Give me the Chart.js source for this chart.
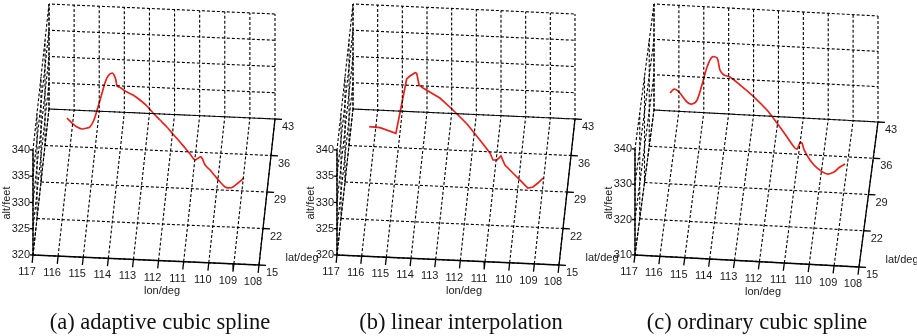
<!DOCTYPE html>
<html>
<head>
<meta charset="utf-8">
<script src="https://cdn.jsdelivr.net/npm/chart.js@4"></script>
<style>
  html, body { margin: 0; padding: 0; background: #fff; }
  #wrap { position: relative; width: 917px; height: 336px; overflow: hidden; }
  #wrap canvas { position: absolute; left: 0; top: 0; }
  .cap { position: absolute; top: 311px; line-height: 22.5px; font-family: 'Liberation Serif', 'Times New Roman', serif;
         font-size: 22.5px; color: #111; white-space: nowrap; transform: translateX(-50%); }
</style>
</head>
<body>
<div id="wrap">
  <canvas id="pa" width="917" height="336"></canvas>
  <canvas id="pb" width="917" height="336"></canvas>
  <canvas id="pc" width="917" height="336"></canvas>
</div>
<script>
// axis ticks
const lonTicks = [117, 116, 115, 114, 113, 112, 111, 110, 109, 108];
const latTicks = [15, 22, 29, 36, 43];
const altTicksAB = [320, 325, 330, 335, 340];
const altTicksC = [310, 320, 330, 340];
const captions = ['(a) adaptive cubic spline', '(b) linear interpolation', '(c) ordinary cubic spline'];

// (a) adaptive cubic spline track
const adaptiveLon = [116.12, 115.91, 115.70, 115.49, 115.28, 115.16, 114.99, 114.82, 114.65, 114.53, 114.40, 114.23, 114.15,
  114.07, 114.02, 113.86, 113.69, 113.35, 113.06, 112.77, 112.51, 112.22, 111.93, 111.68, 111.38, 111.17, 110.96, 110.75,
  110.54, 110.46, 110.33, 110.12, 109.91, 109.70, 109.49, 109.33, 109.16, 108.95, 108.70];
const adaptiveLat = [35.84, 35.38, 34.92, 34.45, 33.99, 33.71, 33.34, 32.96, 32.59, 32.31, 32.03, 31.66, 31.48,
  31.29, 31.20, 30.83, 30.45, 29.71, 29.06, 28.41, 27.85, 27.20, 26.55, 25.99, 25.34, 24.88, 24.41, 23.95,
  23.49, 23.30, 23.02, 22.56, 22.09, 21.63, 21.16, 20.79, 20.42, 19.95, 19.40];
const adaptiveAlt = [325.58, 325.13, 324.88, 325.00, 325.70, 326.19, 327.93, 330.81, 333.88, 336.09, 337.73, 338.70, 338.53,
  337.78, 336.73, 336.76, 336.59, 336.64, 336.39, 335.96, 335.23, 334.61, 333.98, 333.26, 332.44, 331.80, 331.17, 330.53,
  331.61, 331.62, 330.59, 330.14, 329.50, 328.87, 328.42, 328.64, 329.23, 330.50, 332.06];

// (b) linear interpolation track
const linearLon = [116.18, 115.72, 115.04, 114.58, 114.44, 114.22, 114.15, 114.05, 113.88, 113.16, 112.60, 112.00,
  111.45, 111.02, 110.89, 110.72, 110.55, 110.38, 110.04, 109.65, 109.40, 109.18, 108.97, 108.75];
const linearLat = [35.97, 34.96, 33.44, 32.43, 32.11, 31.64, 31.48, 31.26, 30.88, 29.27, 28.04, 26.72,
  25.49, 24.54, 24.25, 23.88, 23.50, 23.12, 22.36, 21.51, 20.94, 20.47, 19.99, 19.52];
const linearAlt = [323.79, 324.70, 325.28, 336.73, 337.64, 338.78, 338.84, 336.86, 336.69, 336.54, 335.60, 334.37,
  332.66, 331.22, 330.20, 330.61, 331.78, 330.48, 329.78, 328.99, 328.47, 329.18, 330.46, 331.92];

// (c) ordinary cubic spline track
const ordinaryLon = [116.16, 115.99, 115.78, 115.44, 115.22, 115.01, 114.80, 114.58, 114.37, 114.15, 114.03, 113.86,
  113.60, 113.17, 112.57, 112.02, 111.59, 111.16, 110.86, 110.73, 110.61, 110.52, 110.43, 110.18, 109.88, 109.45,
  109.15, 108.90, 108.68];
const ordinaryLat = [35.94, 35.56, 35.09, 34.33, 33.86, 33.38, 32.91, 32.44, 31.96, 31.49, 31.21, 30.83,
  30.26, 29.31, 27.98, 26.75, 25.80, 24.86, 24.19, 23.91, 23.63, 23.43, 23.25, 22.68, 22.02, 21.07,
  20.40, 19.83, 19.36];
const ordinaryAlt = [325.47, 327.22, 327.15, 325.56, 325.77, 327.67, 332.69, 338.56, 342.17, 342.66, 339.73, 338.93,
  339.30, 338.59, 337.36, 335.69, 333.57, 331.15, 329.41, 329.31, 331.47, 331.78, 330.11, 328.21, 327.03, 326.88,
  328.53, 330.88, 332.51];

// view of each panel: where the box corner sits and how the three axes project on screen
const panels = [
  { id: 'pa', origin: [33, 255], lonVec: [226, 10], latVec: [16, -146], altVec: [0, -105], altTicks: altTicksAB,
    lon: adaptiveLon, lat: adaptiveLat, alt: adaptiveAlt, tension: 0.3, capX: 160 },
  { id: 'pb', origin: [337, 255], lonVec: [222, 10], latVec: [16, -146], altVec: [0, -105], altTicks: altTicksAB,
    lon: linearLon, lat: linearLat, alt: linearAlt, tension: 0, capX: 461 },
  { id: 'pc', origin: [635, 255], lonVec: [224, 12], latVec: [19, -145], altVec: [0, -106], altTicks: altTicksC,
    lon: ordinaryLon, lat: ordinaryLat, alt: ordinaryAlt, tension: 0.3, capX: 757 }
];

const tickFont = "11px 'Liberation Sans Narrow', 'Liberation Sans', Arial, sans-serif";

function makePanel(v, idx) {
  const lonA = lonTicks[0], lonB = lonTicks[lonTicks.length - 1];
  const latLo = latTicks[0], latHi = latTicks[latTicks.length - 1];
  const altLo = v.altTicks[0], altHi = v.altTicks[v.altTicks.length - 1];

  function P(lon, lat, alt) {
    const a = (lonA - lon) / (lonA - lonB);
    const b = (lat - latLo) / (latHi - latLo);
    const c = (alt - altLo) / (altHi - altLo);
    return {
      x: v.origin[0] + a * v.lonVec[0] + b * v.latVec[0] + c * v.altVec[0],
      y: v.origin[1] + a * v.lonVec[1] + b * v.latVec[1] + c * v.altVec[1]
    };
  }

  const ds = [];
  const line = (p, q, style) => ds.push(Object.assign({
    data: [P(...p), P(...q)], showLine: true, pointRadius: 0, borderWidth: 1.1,
    borderColor: '#000', tension: 0, fill: false
  }, style));
  const dash = off => ({ borderDash: [3, 2], borderDashOffset: off });

  // floor grid
  lonTicks.forEach(lon => line([lon, latLo, altLo], [lon, latHi, altLo], dash(0)));
  latTicks.forEach(lat => line([lonA, lat, altLo], [lonB, lat, altLo], dash(0)));
  // back wall grid
  lonTicks.forEach(lon => line([lon, latHi, altLo], [lon, latHi, altHi], dash(2)));
  v.altTicks.forEach(alt => line([lonA, latHi, alt], [lonB, latHi, alt], dash(2)));
  // side wall grid
  latTicks.forEach(lat => line([lonA, lat, altLo], [lonA, lat, altHi], dash(1)));
  v.altTicks.forEach(alt => line([lonA, latLo, alt], [lonA, latHi, alt], dash(1)));

  // axes and ticks
  const solid = { borderWidth: 1.3 };
  line([lonA, latLo, altLo], [lonB, latLo, altLo], solid);
  line([lonB, latLo, altLo], [lonB, latHi, altLo], solid);
  line([lonA, latLo, altLo], [lonA, latLo, altHi], solid);
  lonTicks.forEach(lon => line([lon, latLo, altLo], [lon, latLo - 1.5, altLo], solid));
  latTicks.forEach(lat => line([lonB, lat, altLo], [lonB - 0.28, lat, altLo], solid));
  v.altTicks.forEach(alt => line([lonA, latLo, alt], [lonA + 0.12, latLo, alt], solid));

  // flight track
  ds.push({
    data: v.lon.map((lon, i) => P(lon, v.lat[i], v.alt[i])),
    showLine: true, pointRadius: 0, borderColor: '#e6221c', borderWidth: 1.7,
    tension: v.tension, fill: false
  });

  const axisText = {
    id: 'axisText',
    afterDatasetsDraw(chart) {
      const ctx = chart.ctx, sx = chart.scales.x, sy = chart.scales.y;
      const px = p => [sx.getPixelForValue(p.x), sy.getPixelForValue(p.y)];
      ctx.save();
      ctx.fillStyle = '#1a1a1a';
      ctx.font = tickFont;
      ctx.textBaseline = 'middle';
      ctx.textAlign = 'center';
      lonTicks.forEach(lon => {
        const [x, y] = px(P(lon, latLo, altLo));
        ctx.fillText(String(lon), x - 6, y + 17);
      });
      ctx.textAlign = 'left';
      latTicks.forEach(lat => {
        const [x, y] = px(P(lonB, lat, altLo));
        ctx.fillText(String(lat), x + 7, y + 8);
      });
      ctx.textAlign = 'right';
      v.altTicks.forEach(alt => {
        const [x, y] = px(P(lonA, latLo, alt));
        ctx.fillText(String(alt), x - 3, y);
      });
      ctx.textAlign = 'center';
      const mid = px(P((lonA + lonB) / 2, latLo, altLo));
      ctx.fillText('lon/deg', mid[0] + 16, mid[1] + 31);
      const corner = px(P(lonB, latLo, altLo));
      ctx.fillText('lat/deg', corner[0] + 43, corner[1] - 7);
      const o = px(P(lonA, latLo, altLo));
      ctx.translate(o[0] - 26, o[1] - 52);
      ctx.rotate(-Math.PI / 2);
      ctx.fillText('alt/feet', 0, 0);
      ctx.restore();
    }
  };

  new Chart(document.getElementById(v.id), {
    type: 'scatter',
    data: { datasets: ds },
    options: {
      responsive: false,
      animation: false,
      events: [],
      layout: { padding: 0 },
      plugins: { legend: { display: false }, tooltip: { enabled: false } },
      scales: {
        x: { type: 'linear', min: 0, max: 917, display: false },
        y: { type: 'linear', min: 0, max: 336, reverse: true, display: false }
      }
    },
    plugins: [axisText]
  });

  const cap = document.createElement('div');
  cap.className = 'cap';
  cap.style.left = v.capX + 'px';
  cap.textContent = captions[idx];
  document.getElementById('wrap').appendChild(cap);
}

panels.forEach(makePanel);
</script>
</body>
</html>
